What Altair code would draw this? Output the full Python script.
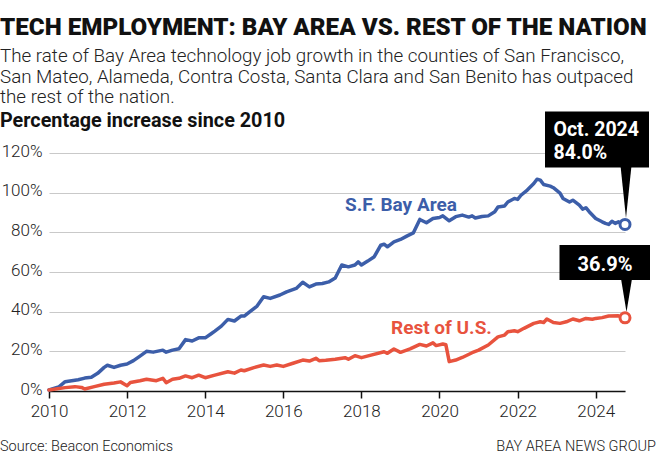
import altair as alt
import pandas as pd

# ---------------- data ----------------
bay_dates = ["2010-01", "2010-04", "2010-06", "2010-08", "2010-10", "2010-12", "2011-02", "2011-04",
             "2011-06", "2011-07", "2011-09", "2011-11", "2012-01", "2012-03", "2012-05", "2012-07",
             "2012-09", "2012-12", "2013-01", "2013-03", "2013-05", "2013-07", "2013-09", "2013-11",
             "2014-01", "2014-03", "2014-04", "2014-06", "2014-08", "2014-10", "2014-12", "2015-01",
             "2015-03", "2015-05", "2015-07", "2015-09", "2015-12", "2016-02", "2016-05", "2016-07",
             "2016-09", "2016-11", "2017-01", "2017-03", "2017-05", "2017-07", "2017-09", "2017-11",
             "2017-12", "2018-01", "2018-03", "2018-05", "2018-07", "2018-08", "2018-09", "2018-11",
             "2019-01", "2019-03", "2019-05", "2019-07", "2019-09", "2019-11", "2020-01", "2020-02",
             "2020-04", "2020-06", "2020-08", "2020-10", "2020-11", "2020-12", "2021-02", "2021-04",
             "2021-06", "2021-07", "2021-09", "2021-10", "2021-12", "2022-01", "2022-02", "2022-04",
             "2022-06", "2022-07", "2022-08", "2022-09", "2022-11", "2022-12", "2023-02", "2023-03",
             "2023-05", "2023-06", "2023-08", "2023-09", "2023-10", "2023-11", "2024-01", "2024-03",
             "2024-04", "2024-05", "2024-06", "2024-07", "2024-08", "2024-10"]
bay_values = [0.5, 2.0, 4.7, 5.2, 5.7, 6.5, 6.9, 8.9,
              11.9, 13.0, 11.9, 13.0, 13.6, 15.3, 17.6, 20.0,
              19.6, 20.6, 19.6, 20.6, 21.3, 25.9, 25.2, 26.8,
              26.8, 29.0, 30.2, 32.7, 36.1, 35.3, 37.8, 37.8,
              40.3, 42.8, 47.5, 46.7, 48.4, 50.0, 51.7, 54.8,
              52.5, 53.9, 54.2, 55.0, 57.0, 63.5, 62.6, 63.5,
              65.1, 63.5, 65.5, 67.7, 73.5, 74.0, 72.7, 75.2,
              76.4, 78.1, 79.7, 86.5, 84.8, 87.0, 87.5, 88.3,
              85.8, 87.9, 88.7, 87.7, 88.3, 87.2, 88.0, 88.3,
              90.4, 92.8, 93.3, 95.3, 97.1, 96.6, 98.7, 101.3,
              104.6, 106.8, 106.3, 104.1, 103.3, 102.5, 99.8, 97.1,
              95.3, 96.2, 93.7, 91.7, 92.4, 90.4, 87.0, 85.3,
              84.5, 84.0, 85.6, 84.5, 85.3, 84.0]

rest_dates = ["2010-01", "2010-06", "2010-09", "2010-11", "2010-12", "2011-03", "2011-06", "2011-09",
              "2011-11", "2012-01", "2012-02", "2012-05", "2012-07", "2012-10", "2012-12", "2013-01",
              "2013-03", "2013-05", "2013-07", "2013-09", "2013-11", "2014-01", "2014-04", "2014-08",
              "2014-10", "2014-12", "2015-01", "2015-04", "2015-07", "2015-09", "2015-11", "2016-01",
              "2016-04", "2016-07", "2016-09", "2016-11", "2016-12", "2017-02", "2017-05", "2017-08",
              "2017-09", "2017-11", "2018-01", "2018-04", "2018-08", "2018-09", "2018-11", "2019-01",
              "2019-04", "2019-07", "2019-09", "2019-11", "2019-12", "2020-02", "2020-03", "2020-04",
              "2020-06", "2020-08", "2020-11", "2021-01", "2021-04", "2021-07", "2021-09", "2021-10",
              "2021-12", "2022-01", "2022-03", "2022-06", "2022-08", "2022-09", "2022-10", "2022-12",
              "2023-02", "2023-04", "2023-06", "2023-08", "2023-10", "2023-12", "2024-01", "2024-03",
              "2024-05", "2024-08", "2024-10"]
rest_values = [0.5, 1.7, 2.2, 1.8, 1.0, 2.2, 3.4, 4.0,
               4.6, 2.7, 4.3, 5.2, 5.9, 5.2, 6.4, 4.2,
               5.9, 6.4, 7.6, 6.7, 8.0, 6.7, 8.0, 9.7,
               9.0, 10.6, 10.2, 11.8, 13.1, 12.4, 13.1, 12.4,
               14.0, 15.6, 15.1, 16.5, 15.3, 15.5, 16.0, 16.8,
               16.0, 17.8, 16.8, 18.1, 19.8, 19.0, 21.2, 19.5,
               21.2, 23.5, 22.7, 24.3, 22.9, 23.7, 23.3, 14.8,
               15.6, 16.9, 19.3, 20.6, 23.2, 27.3, 28.2, 29.9,
               30.4, 29.9, 31.6, 34.1, 34.9, 34.5, 36.3, 34.5,
               34.1, 34.9, 36.3, 35.4, 36.6, 36.2, 36.6, 37.0,
               37.8, 37.9, 36.9]

series_names = ["S.F. Bay Area", "Rest of U.S."]
series_colors = ["#3c5ea9", "#e8533e"]
y_ticks = [0, 20, 40, 60, 80, 100, 120]
x_tick_years = [2010, 2012, 2014, 2016, 2018, 2020, 2022, 2024]

title_text = "TECH EMPLOYMENT: BAY AREA VS. REST OF THE NATION"
subtitle_lines = ["The rate of Bay Area technology job growth in the counties of San Francisco,",
                  "San Mateo, Alameda, Contra Costa, Santa Clara and San Benito has outpaced",
                  "the rest of the nation."]
axis_title_text = "Percentage increase since 2010"
source_text = "Source: Beacon Economics"
credit_text = "BAY AREA NEWS GROUP"
bay_callout = ["Oct. 2024", "84.0%"]
rest_callout = "36.9%"

# ---------------- build tables ----------------
bay_df = pd.DataFrame({"date": [d + "-01" for d in bay_dates], "value": bay_values,
                       "series": series_names[0]})
rest_df = pd.DataFrame({"date": [d + "-01" for d in rest_dates], "value": rest_values,
                        "series": series_names[1]})
lines_df = pd.concat([bay_df, rest_df], ignore_index=True)
last_df = pd.concat([bay_df.tail(1), rest_df.tail(1)], ignore_index=True)

FONT = "Roboto"
W, H = 576, 238  # plot area

color_scale = alt.Scale(domain=series_names, range=series_colors)
x_scale = alt.Scale(type="utc",
                    domain=[alt.DateTime(year=2010, month=1, date=1, utc=True),
                            alt.DateTime(year=2024, month=10, date=1, utc=True)])
y_scale = alt.Scale(domain=[0, 120], nice=False)

x_axis = alt.Axis(values=[alt.DateTime(year=y, month=1, date=1, utc=True) for y in x_tick_years],
                  format="%Y", title=None, grid=False, domainColor="#111111", domainWidth=1.5,
                  tickColor="#111111", tickWidth=1.5, tickSize=7, labelPadding=5,
                  labelFont=FONT, labelFontSize=17, labelFontWeight=300, labelColor="#222222",
                  labelFlush=False, labelOverlap=False)
y_axis = alt.Axis(values=y_ticks, labelExpr="datum.value + '%'", title=None, grid=True,
                  gridColor="#c9c9c9", gridWidth=1, domain=False, ticks=False, labelPadding=7,
                  labelFont=FONT, labelFontSize=17, labelFontWeight=300, labelColor="#222222",
                  labelOffset=-2, labelOverlap=False, labelFlush=False)

lines = alt.Chart(lines_df).mark_line(strokeWidth=3.5, strokeJoin="round",
                                      strokeCap="round").encode(
    x=alt.X("date:T", scale=x_scale, axis=x_axis),
    y=alt.Y("value:Q", scale=y_scale, axis=y_axis),
    color=alt.Color("series:N", scale=color_scale, legend=None),
)

dots = alt.Chart(last_df).mark_point(shape="circle", filled=True, fill="white", size=100,
                                     strokeWidth=3, opacity=1).encode(
    x=alt.X("date:T", scale=x_scale, axis=x_axis),
    y=alt.Y("value:Q", scale=y_scale, axis=y_axis),
    stroke=alt.Stroke("series:N", scale=color_scale, legend=None),
)

one = alt.Data(values=[{"k": 1}])


def text_layer(text, x, y, size, weight="normal", color="#111111", align="left", line_height=None):
    kw = dict(align=align, baseline="alphabetic", font=FONT, fontSize=size, fontWeight=weight,
              color=color)
    if line_height is not None:
        kw["lineHeight"] = line_height
    return alt.Chart(one).mark_text(**kw).encode(
        x=alt.value(x), y=alt.value(y), text=alt.value(text))


def box(x0, x1, y0, y1):
    return alt.Chart(one).mark_rect(color="black").encode(
        x=alt.value(x0), x2=alt.value(x1), y=alt.value(y0), y2=alt.value(y1))


def pointer(xc, yc, height, half_width_ratio):
    path = f"M {-half_width_ratio} -1 L {half_width_ratio} -1 L 0 1 Z"
    return alt.Chart(one).mark_point(shape=path, filled=True, fill="black", strokeWidth=0,
                                     size=height * height, opacity=1).encode(
        x=alt.value(xc), y=alt.value(yc))


layers = [
    lines,
    box(496, 600, -41.5, 14.5),
    pointer(577, 39.5, 51, 0.21),
    box(510.5, 601, 92, 127),
    pointer(577.5, 143, 32, 0.33),
    dots,
    text_layer(bay_callout[0], 504.5, -17.5, 19.5, "bold", "white"),
    text_layer(bay_callout[1], 504.5, 6, 19.5, "bold", "white"),
    text_layer(rest_callout, 556, 117.5, 20, "bold", "white", align="center"),
    text_layer(series_names[0], 296, 58, 19, "bold", series_colors[0]),
    text_layer(series_names[1], 342, 181, 19, "bold", series_colors[1]),
    text_layer(title_text, -49, -118, 24.2, 900, "#111111"),
    text_layer(subtitle_lines, -49, -91, 18.8, 300, "#222222", line_height=20.7),
    text_layer(axis_title_text, -49, -26, 19.8, "bold", "#111111"),
    text_layer(source_text, -49, 298, 14.5, 300, "#222222"),
    text_layer(credit_text, 607, 298, 14.5, 300, "#222222", align="right"),
]

chart = alt.layer(*layers).properties(
    width=W, height=H,
    autosize=alt.AutoSizeParams(type="none"),
    padding={"left": 49, "top": 153, "right": 35, "bottom": 79},
    background="white",
).configure_view(stroke=None)

chart.save("out.html", embed_options={"renderer": "svg", "actions": False})
